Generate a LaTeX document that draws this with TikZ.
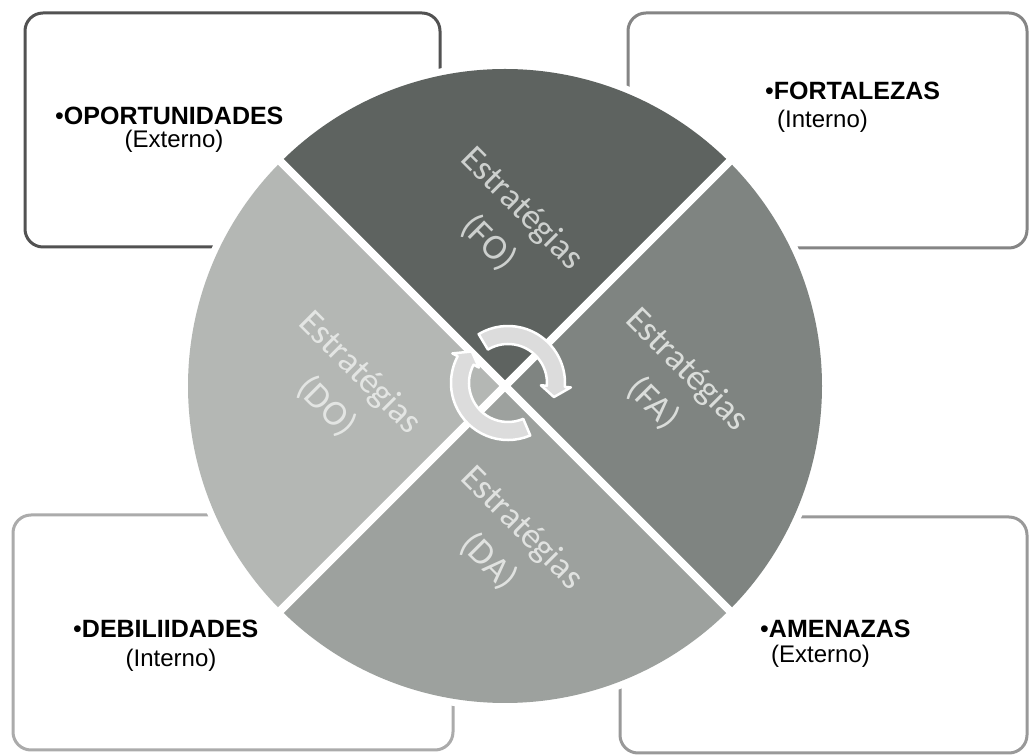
\documentclass[tikz,border=0pt]{standalone}
\usepackage{fontspec}
\setmainfont{Liberation Sans}
\newfontfamily\carlitofont{Carlito}
\definecolor{sFO}{HTML}{5E6360}
\definecolor{sFA}{HTML}{7F8481}
\definecolor{sDA}{HTML}{9DA19E}
\definecolor{sDO}{HTML}{B4B7B4}
\definecolor{tFO}{HTML}{CDD0CE}
\definecolor{tFA}{HTML}{DADDDA}
\definecolor{tDA}{HTML}{E0E2E0}
\definecolor{tDO}{HTML}{E3E5E3}
\definecolor{arrowfill}{HTML}{DCDCDC}
\begin{document}
\begin{tikzpicture}[x=1pt,y=1pt,
  swotbox/.style={draw, line width=3pt, rounded corners=18pt, inner sep=0pt, fill=white},
  headtext/.style={font=\fontsize{25}{28}\selectfont, anchor=base west, inner sep=0pt},
  subtext/.style={font=\fontsize{24}{28}\selectfont, inner sep=0pt},
  sectortext/.style={font=\carlitofont\fontsize{36}{48}\selectfont, align=center, rotate=-45, inner sep=0pt},
  cyclearrow/.style={fill=arrowfill, draw=white, line width=2.5pt, line join=round}
]
\useasboundingbox (0,0) rectangle (1029,755);
\fill[white] (0,0) rectangle (1029,755);

% boxes
\node[swotbox, draw=black!68, minimum width=415pt, minimum height=234pt] (boxTL) at (232.5,625) {};
\node[swotbox, draw=black!48, minimum width=399pt, minimum height=235pt] (boxTR) at (827.5,624.5) {};
\node[swotbox, draw=black!33, minimum width=440pt, minimum height=235pt] (boxBL) at (233,122.5) {};
\node[swotbox, draw=black!40, minimum width=407pt, minimum height=236pt] (boxBR) at (823.5,120) {};

% circle
\coordinate (C) at (505,369);
\begin{scope}[shift={(C)}]
  \fill[white] (0,0) circle[radius=324];
  \fill[sFO] (0,0) -- (45:317) arc[start angle=45, end angle=135, radius=317] -- cycle;
  \fill[sFA] (0,0) -- (-45:317) arc[start angle=-45, end angle=45, radius=317] -- cycle;
  \fill[sDA] (0,0) -- (-135:317) arc[start angle=-135, end angle=-45, radius=317] -- cycle;
  \fill[sDO] (0,0) -- (135:317) arc[start angle=135, end angle=225, radius=317] -- cycle;
  \draw[white, line width=8pt] (135:320) -- (-45:320);
  \draw[white, line width=8pt] (45:320) -- (-135:320);
\end{scope}

% sector texts
\node[sectortext, text=tFO] (tFOn) at (505,529) {Estratégias\\(FO)};
\node[sectortext, text=tFA] (tFAn) at (670,368) {Estratégias\\(FA)};
\node[sectortext, text=tDA] (tDAn) at (505,210) {Estratégias\\(DA)};
\node[sectortext, text=tDO] (tDOn) at (343,365) {Estratégias\\(DO)};

% cycle arrows
\coordinate (A) at (508,372);
\begin{scope}[shift={(A)}]
  \path[cyclearrow] (121:57) arc[start angle=121, end angle=-4, radius=57]
     -- (-4:63) -- (-17:48) -- (-4:33) -- (-4:39)
     arc[start angle=-4, end angle=121, radius=39] -- cycle;
  \path[cyclearrow] (-67:57) arc[start angle=-67, end angle=-208, radius=57]
     -- (-208:63) -- (-221:48) -- (-208:33) -- (-208:39)
     arc[start angle=-208, end angle=-67, radius=39] -- cycle;
\end{scope}

% box texts
\node[headtext] (hTL) at (55,630) {•\textbf{OPORTUNIDADES}};
\node[subtext, anchor=base] (sTL) at (174,607) {(Externo)};
\node[headtext] (hTR) at (765,655) {•\textbf{FORTALEZAS}};
\node[subtext, anchor=base west] (sTR) at (777,627) {(Interno)};
\node[headtext] (hBL) at (73,117) {•\textbf{DEBILIIDADES}};
\node[subtext, anchor=base] (sBL) at (171,88) {(Interno)};
\node[headtext] (hBR) at (760,117) {•\textbf{AMENAZAS}};
\node[subtext, anchor=base west] (sBR) at (771,92) {(Externo)};
\end{tikzpicture}
\end{document}
